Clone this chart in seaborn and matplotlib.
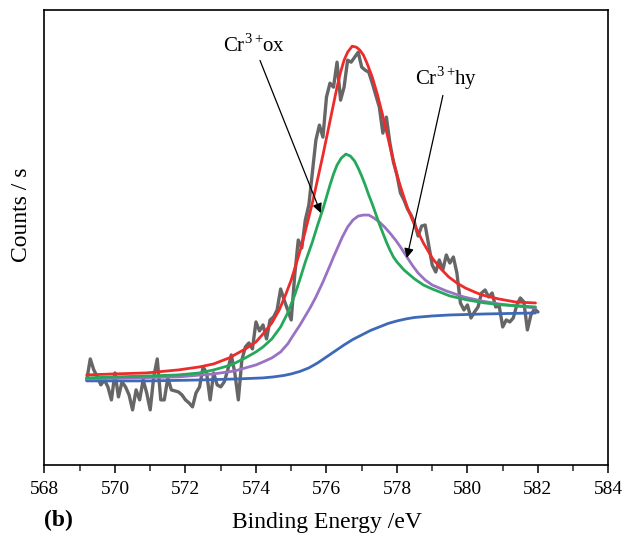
import numpy as np
import pandas as pd
import matplotlib
matplotlib.use("Agg")
import matplotlib.pyplot as plt
import seaborn as sns

# ---------------- data ----------------
raw_start, raw_step = 569.2, 0.1
raw_counts = [
    85, 106, 95, 88, 80, 85, 78, 65, 92, 68,          # 569.2 - 570.1
    83, 78, 70, 55, 75, 65, 85, 72, 55, 88,           # 570.2 - 571.1
    106, 65, 65, 87, 75, 74, 73, 70, 65, 62,          # 571.2 - 572.1
    58, 72, 78, 98, 92, 65, 92, 80, 78, 83,           # 572.2 - 573.1
    95, 110, 92, 65, 105, 118, 122, 116, 143, 134,    # 573.2 - 574.1
    140, 126, 145, 148, 155, 176, 165, 155, 145, 190, # 574.2 - 575.1
    225, 217, 245, 260, 292, 325, 340, 328, 368, 382, # 575.2 - 576.1
    378, 403, 365, 378, 405, 403, 408, 413, 398, 395, # 576.2 - 577.1
    393, 382, 370, 358, 332, 348, 322, 303, 290, 272, # 577.2 - 578.1
    265, 256, 250, 242, 229, 239, 240, 220, 200, 193, # 578.2 - 579.1
    205, 195, 210, 202, 208, 192, 162, 155, 160, 147, # 579.2 - 580.1
    153, 158, 172, 175, 168, 172, 158, 159, 138, 145, # 580.2 - 581.1
    143, 147, 160, 167, 163, 135, 150, 156, 153,      # 581.2 - 582.0
]
raw_energy = [round(raw_start + raw_step * i, 2) for i in range(len(raw_counts))]

env_energy = [569.2, 570.0, 570.9, 571.8, 572.4, 572.8, 573.24, 573.7, 574.0,
              574.2, 574.45, 574.66, 574.85, 575.0, 575.15, 575.3, 575.45, 575.6,
              575.75, 575.9, 576.0, 576.1, 576.2, 576.3, 576.4, 576.5, 576.6,
              576.73, 576.85, 576.95, 577.05, 577.15, 577.3, 577.45, 577.58,
              577.72, 577.86, 578.0, 578.15, 578.3, 578.5, 578.75, 579.0,
              579.25, 579.47, 579.7, 579.94, 580.2, 580.41, 580.65, 580.89,
              581.36, 581.93]
env_counts = [90, 91, 92, 95, 98, 101, 107, 116, 123,
              131, 142, 155, 171, 185, 202, 220, 241, 262,
              286, 310, 327, 344, 361, 378, 393, 405, 413,
              419, 418, 415, 410, 402, 388, 370, 352,
              331, 310, 290, 273, 257, 240, 222, 207,
              196, 188, 182, 177, 173, 170, 168, 166,
              163, 162]

ox_energy = [569.2, 570.0, 571.0, 571.8, 572.4, 572.8, 573.3, 573.7, 574.0,
             574.2, 574.45, 574.7, 574.9, 575.1, 575.25, 575.4, 575.6, 575.75,
             575.9, 576.0, 576.1, 576.2, 576.3, 576.42, 576.55, 576.68, 576.8,
             576.9, 577.0, 577.1, 577.2, 577.3, 577.4, 577.5, 577.6, 577.7,
             577.8, 577.9, 578.0, 578.2, 578.5, 578.75, 579.0, 579.5, 580.0,
             580.5, 581.0, 581.5, 581.93]
ox_counts = [87, 88, 89, 90, 92, 95, 100, 107, 113,
             118, 126, 138, 152, 170, 186, 203, 223, 240,
             256, 268, 280, 291, 300, 307, 311, 309, 304,
             297, 289, 280, 270, 261, 251, 241, 232, 223,
             215, 208, 203, 195, 186, 180, 176, 169, 165,
             162, 160, 159, 158]

hy_energy = [569.2, 570.5, 571.8, 572.8, 573.4, 573.7, 574.0, 574.2, 574.45,
             574.7, 574.9, 575.1, 575.25, 575.4, 575.55, 575.7, 575.9, 576.07,
             576.2, 576.3, 576.45, 576.6, 576.75, 576.9, 577.05, 577.2, 577.35,
             577.5, 577.65, 577.8, 577.96, 578.1, 578.3, 578.45, 578.6, 578.8,
             579.0, 579.2, 579.4, 579.65, 579.9, 580.4, 580.9, 581.4, 581.93]
hy_counts = [86, 87, 88, 91, 94, 97, 100, 103, 107,
             113, 121, 132, 140, 149, 158, 168, 183, 197,
             208, 216, 228, 238, 245, 249, 250, 250, 247,
             243, 238, 232, 225, 218, 207, 199, 192, 185,
             180, 177, 174, 171, 168, 164, 161, 159, 157]

bg_energy = [569.2, 571.0, 572.5, 573.5, 574.2, 574.5, 574.8, 575.0, 575.25,
             575.5, 575.75, 576.0, 576.25, 576.5, 576.75, 577.0, 577.25, 577.5,
             577.75, 578.0, 578.25, 578.5, 579.0, 579.5, 580.5, 581.93]
bg_counts = [84, 84, 85, 86, 87, 88, 89.5, 91, 93.5,
             97, 102, 108, 114, 120, 125.5, 130, 134.5, 138,
             141.5, 144, 146, 147.5, 149, 150, 151, 152]

x_ticks = [568, 570, 572, 574, 576, 578, 580, 582, 584]

# ---------------- styling ----------------
sns.set_theme(style="white")
plt.rcParams["font.family"] = ["Liberation Serif", "DejaVu Serif"]
plt.rcParams["mathtext.fontset"] = "custom"
plt.rcParams["mathtext.rm"] = "Liberation Serif"

fig = plt.figure(figsize=(6.26, 5.38), dpi=100)
ax = fig.add_axes([0.071, 0.136, 0.901, 0.845])

lw = 2.0
sns.lineplot(x=raw_energy, y=raw_counts, ax=ax, color="#666666", lw=2.4, sort=False)
sns.lineplot(x=bg_energy, y=bg_counts, ax=ax, color="#3d69b8", lw=lw, sort=False)
sns.lineplot(x=hy_energy, y=hy_counts, ax=ax, color="#9a72c4", lw=lw, sort=False)
sns.lineplot(x=ox_energy, y=ox_counts, ax=ax, color="#25a85a", lw=lw, sort=False)
sns.lineplot(x=env_energy, y=env_counts, ax=ax, color="#ee2b2b", lw=lw, sort=False)

ax.set_xlim(568, 584)
ax.set_ylim(0, 455)
ax.set_xticks(x_ticks)
ax.set_xticks(np.arange(569, 584, 2), minor=True)
ax.set_yticks([])
ax.tick_params(axis="x", which="major", direction="out", length=6, width=1.1,
               bottom=True, top=False, labelsize=14, pad=6, colors="black")
ax.tick_params(axis="x", which="minor", direction="out", length=4, width=1.1,
               bottom=True, top=False)
for s in ax.spines.values():
    s.set_visible(True)
    s.set_color("black")
    s.set_linewidth(1.2)

ax.set_xlabel("Binding Energy /eV", fontsize=17, labelpad=10, color="black")
ax.set_ylabel("Counts / s", fontsize=17, color="black")
ax.yaxis.set_label_coords(-0.022, 0.55)

ax.annotate(r"Cr$^{\mathrm{3+}}\!$ox", xy=(575.84, 252), xytext=(573.95, 408),
            fontsize=15, ha="center", va="bottom", color="black",
            arrowprops=dict(arrowstyle="-|>", color="black", lw=0.9,
                            mutation_scale=14, shrinkA=0, shrinkB=0))
ax.annotate(r"Cr$^{\mathrm{3+}}\!$hy", xy=(578.28, 207), xytext=(579.41, 373),
            fontsize=15, ha="center", va="bottom", color="black",
            arrowprops=dict(arrowstyle="-|>", color="black", lw=0.9,
                            mutation_scale=14, shrinkA=0, shrinkB=0))

fig.text(0.094, 0.032, "(b)", fontsize=17, fontweight="bold", ha="center",
         va="center", color="black")

fig.savefig("out.png", dpi=100)
